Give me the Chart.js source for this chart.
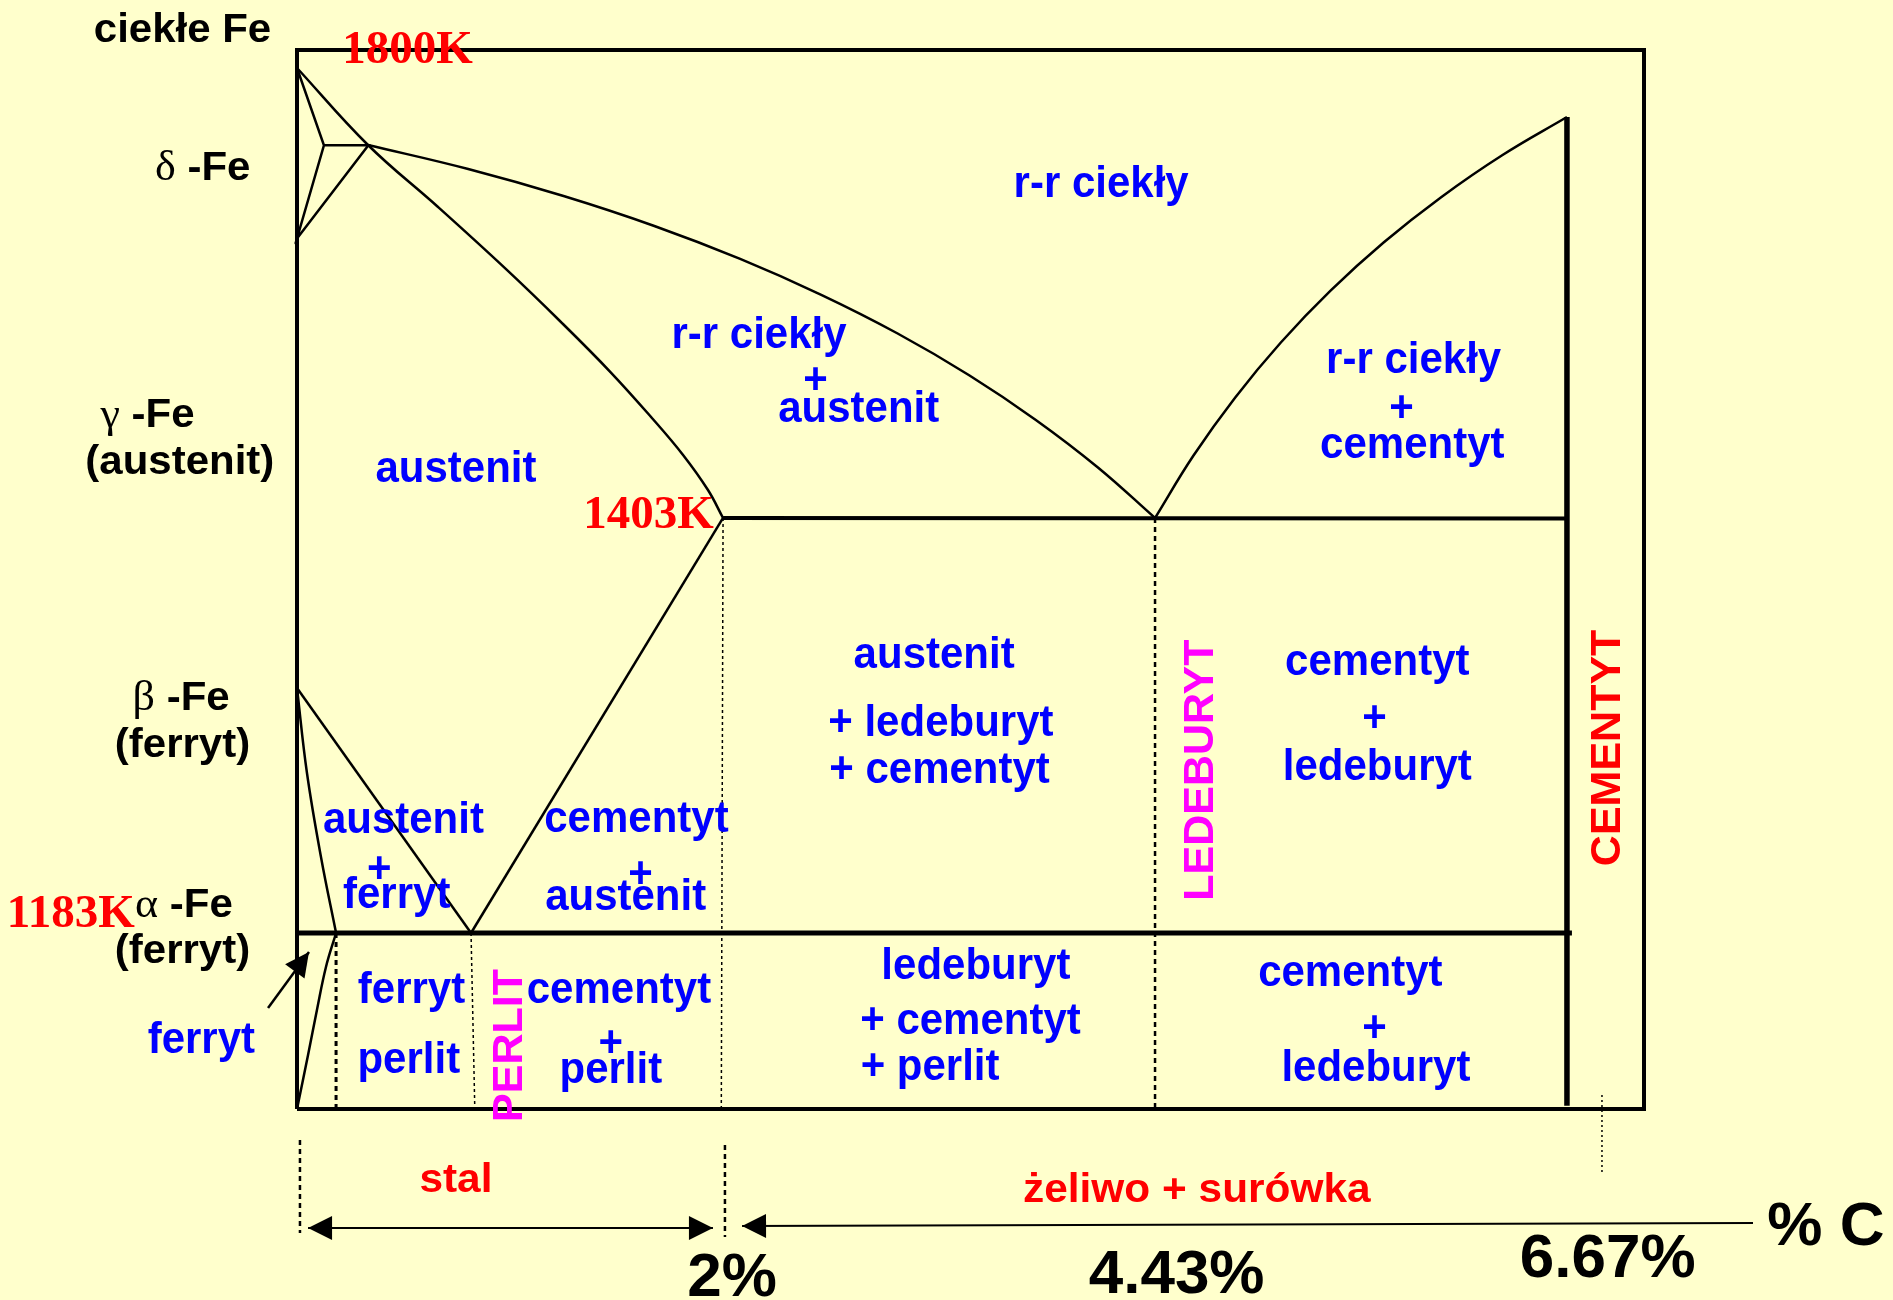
<!DOCTYPE html>
<html>
<head>
<meta charset="utf-8">
<script src="https://cdn.jsdelivr.net/npm/chart.js@4.4.0/dist/chart.umd.min.js"></script>
<style>
html, body { margin:0; padding:0; background:#ffffcc; }
canvas { display:block; }
</style>
</head>
<body>
<canvas id="phaseChart" width="1893" height="1300"></canvas>
<script>
// diagram units: x and y both run 0..100 across the frame of the diagram (schematic)
var frame = [[0,0],[0,100],[100,100],[100,0],[0,0]];
var deltaCorner = [[0,98.3],[2.0,91.0],[0,82.2],[5.3,91.0],[2.0,91.0]];
var solidus = [[0,98.3],[5.27,91.03],[10.47,85.17],[15.48,79.35],[19.52,74.41],[23.27,69.59],[26.35,65.25],[28.66,61.76],[30.51,58.45],[31.63,55.81]];
var liquidus = [[5.27,91.03],[12.71,88.76],[19.79,86.21],[26.53,83.38],[32.9,80.27],[38.92,76.88],[44.59,73.23],[49.9,69.29],[54.85,65.07],[59.46,60.58],[63.7,55.81]];
var cementiteLiquidus = [[63.7,55.81],[66.53,61.66],[69.64,67.17],[73.04,72.38],[76.73,77.27],[80.69,81.84],[84.94,86.1],[89.47,90.06],[94.28,93.67]];
var eutecticLine = [[31.63,55.81],[94.28,55.75]];
var cementiteLine = [[94.28,93.67],[94.28,0.3]];
var acmLine = [[31.63,55.81],[12.92,16.62]];
var a3Line = [[0,39.75],[12.92,16.62]];
var gpCurve = [[0,39.75],[0.74,31.73],[1.78,23.8],[2.9,16.62]];
var eutectoidLine = [[0,16.62],[94.65,16.62]];
var solvusCurve = [[2.9,16.62],[2.15,13.41],[1.48,9.35],[0.82,5.1],[0,0]];
var ferriteLimit = [[2.9,16.62],[2.9,0]];
var pearliteLimit = [[12.92,16.62],[13.2,0]];
var steelLimit = [[31.63,55.81],[31.5,0]];
var eutecticLimit = [[63.7,55.81],[63.7,0]];
var steelMarkLeft = [[0.22,-2.93],[0.22,-11.71]];
var steelMarkRight = [[31.77,-3.4],[31.77,-12.08]];
var steelArrow = [[0.82,-11.24],[30.88,-11.24]];
var castIronArrow = [[33.04,-11.05],[108.09,-10.76]];
var cementiteMark = [[96.88,1.32],[96.88,-6.04]];
var ferriteArrow = [[-2.15,9.54],[0.89,14.83]];

var phaseLabels = [
  ['r-r ciekły', 59.7, 86.1],
  ['r-r ciekły', 34.3, 71.9], ['+', 38.5, 67.5], ['austenit', 41.7, 64.9],
  ['austenit', 11.8, 59.2],
  ['r-r ciekły', 82.9, 69.5], ['+', 82.0, 64.9], ['cementyt', 82.8, 61.5],
  ['austenit', 47.3, 41.6], ['+ ledeburyt', 47.8, 35.2], ['+ cementyt', 47.7, 30.8],
  ['cementyt', 80.2, 41.0], ['+', 80.0, 35.6], ['ledeburyt', 80.2, 31.1],
  ['austenit', 7.9, 26.1], ['+', 6.1, 21.3], ['ferryt', 7.4, 19.0],
  ['cementyt', 25.2, 26.2], ['+', 25.5, 20.9], ['austenit', 24.4, 18.8],
  ['ferryt', 8.5, 10.0], ['perlit', 8.3, 3.4],
  ['cementyt', 23.9, 10.0], ['+', 23.3, 4.9], ['perlit', 23.3, 2.5],
  ['ledeburyt', 50.4, 12.3], ['+ cementyt', 50.0, 7.1], ['+ perlit', 47.0, 2.7],
  ['cementyt', 78.2, 11.6], ['+', 80.0, 6.3], ['ledeburyt', 80.1, 2.6],
  ['ferryt', -7.1, 5.3]
];
var ironLabels = [
  ['ciekłe Fe', -8.5, 100.8],
  ['δ -Fe', -7.0, 87.7],
  ['γ -Fe', -11.1, 64.4], ['(austenit)', -8.7, 60.0],
  ['β -Fe', -8.6, 37.7], ['(ferryt)', -8.5, 33.2],
  ['α -Fe', -8.4, 18.1], ['(ferryt)', -8.5, 13.8]
];
var tempLabels = [['1800K', 8.2, 98.8], ['1403K', 26.1, 54.9], ['1183K', -16.8, 17.2]];
var rangeLabels = [['stal', 11.8, -7.8], ['żeliwo + surówka', 66.8, -8.8]];
var compositionLabels = [['2%', 32.3, -17.7], ['4.43%', 65.3, -17.4], ['6.67%', 97.3, -15.9], ['% C', 113.5, -12.8]];
var structureLabels = [['LEDEBURYT', 68.0, 32.0], ['PERLIT', 16.7, 6.0]];
var cementiteLabels = [['CEMENTYT', 98.2, 34.1]];

var SANS = '"Liberation Sans", Arial, sans-serif';
var SERIF = '"Liberation Serif", "Times New Roman", serif';

function line(points, width, extra) {
  var ds = {
    data: points.map(function(p){ return {x:p[0], y:p[1]}; }),
    showLine: true,
    borderColor: '#000',
    backgroundColor: '#000',
    borderWidth: width,
    pointRadius: 0,
    tension: 0,
    fill: false,
    clip: false
  };
  for (var k in extra) ds[k] = extra[k];
  return ds;
}

var datasets = [
  line(frame, 4),
  line(deltaCorner, 2.5),
  line(solidus, 2.5, {tension:0.4}),
  line(liquidus, 2.5, {tension:0.4}),
  line(cementiteLiquidus, 2.5, {tension:0.4}),
  line(eutecticLine, 4),
  line(cementiteLine, 5.5),
  line(acmLine, 2.5),
  line(a3Line, 2.5),
  line(gpCurve, 2.5, {tension:0.4}),
  line(eutectoidLine, 5),
  line(solvusCurve, 2.5, {tension:0.4}),
  line(ferriteLimit, 3, {borderDash:[5,4]}),
  line(pearliteLimit, 1.5, {borderDash:[3,3]}),
  line(steelLimit, 1.5, {borderDash:[3,3]}),
  line(eutecticLimit, 2.5, {borderDash:[5,4]}),
  line(steelMarkLeft, 2.5, {borderDash:[5,4]}),
  line(steelMarkRight, 2.5, {borderDash:[5,4]}),
  line(steelArrow, 2, {arrowAt:['start','end']}),
  line(castIronArrow, 2, {arrowAt:['start']}),
  line(cementiteMark, 1.5, {borderDash:[2,3]}),
  line(ferriteArrow, 2.5, {arrowAt:['end']})
];

var backgroundPlugin = {
  id: 'paper',
  beforeDraw: function(chart) {
    var ctx = chart.ctx;
    ctx.save();
    ctx.fillStyle = '#ffffcc';
    ctx.fillRect(0, 0, chart.width, chart.height);
    ctx.restore();
  }
};

var arrowPlugin = {
  id: 'arrows',
  afterDatasetsDraw: function(chart) {
    var ctx = chart.ctx;
    chart.data.datasets.forEach(function(ds, i) {
      if (!ds.arrowAt) return;
      var pts = chart.getDatasetMeta(i).data;
      ds.arrowAt.forEach(function(end) {
        var a = end == 'start' ? pts[0] : pts[pts.length-1];
        var b = end == 'start' ? pts[1] : pts[pts.length-2];
        var ang = Math.atan2(a.y - b.y, a.x - b.x);
        ctx.save();
        ctx.translate(a.x, a.y);
        ctx.rotate(ang);
        ctx.beginPath();
        ctx.moveTo(0, 0);
        ctx.lineTo(-24, -12);
        ctx.lineTo(-24, 12);
        ctx.closePath();
        ctx.fillStyle = '#000';
        ctx.fill();
        ctx.restore();
      });
    });
  }
};

function drawLabels(chart, list, style) {
  var ctx = chart.ctx, xs = chart.scales.x, ys = chart.scales.y;
  list.forEach(function(item) {
    var px = xs.getPixelForValue(item[1]);
    var py = ys.getPixelForValue(item[2]);
    var text = item[0];
    ctx.save();
    ctx.translate(px, py);
    if (style.vertical) ctx.rotate(-Math.PI/2);
    ctx.scale(style.sx || 1, style.sy || 1);
    ctx.fillStyle = style.color;
    ctx.textBaseline = 'alphabetic';
    if ('αβγδ'.indexOf(text.charAt(0)) >= 0) {
      // greek letter set in a plain serif, rest in bold sans
      var greek = text.charAt(0), rest = text.slice(1);
      ctx.font = style.greekFont;
      var gw = ctx.measureText(greek).width;
      ctx.font = style.font;
      var rw = ctx.measureText(rest).width;
      var x0 = -(gw + rw) / 2;
      ctx.textAlign = 'left';
      ctx.font = style.greekFont;
      ctx.fillText(greek, x0, 0);
      ctx.font = style.font;
      ctx.fillText(rest, x0 + gw, 0);
    } else {
      ctx.font = style.font;
      ctx.textAlign = 'center';
      ctx.fillText(text, 0, 0);
    }
    ctx.restore();
  });
}

var labelPlugin = {
  id: 'labels',
  afterDatasetsDraw: function(chart) {
    drawLabels(chart, phaseLabels, {font:'bold 42px ' + SANS, color:'#0000ff', sy:1.05});
    drawLabels(chart, ironLabels, {font:'bold 40px ' + SANS, greekFont:'42px ' + SERIF, color:'#000', sx:1.05});
    drawLabels(chart, tempLabels, {font:'bold 47px ' + SERIF, color:'#ff0000'});
    drawLabels(chart, rangeLabels, {font:'bold 40px ' + SANS, color:'#ff0000', sx:1.06});
    drawLabels(chart, compositionLabels, {font:'bold 62px ' + SANS, color:'#000'});
    drawLabels(chart, structureLabels, {font:'bold 43px ' + SANS, color:'#ff00ff', vertical:true});
    drawLabels(chart, cementiteLabels, {font:'bold 43px ' + SANS, color:'#ff0000', vertical:true});
  }
};

var phaseChart = new Chart(document.getElementById('phaseChart'), {
  type: 'scatter',
  data: { datasets: datasets },
  options: {
    responsive: false,
    animation: false,
    events: [],
    layout: { padding: { left:297, right:249, top:50, bottom:191 } },
    scales: {
      x: { type:'linear', min:0, max:100, display:false },
      y: { type:'linear', min:0, max:100, display:false }
    },
    plugins: { legend:{display:false}, tooltip:{enabled:false} }
  },
  plugins: [backgroundPlugin, arrowPlugin, labelPlugin]
});
</script>
</body>
</html>
